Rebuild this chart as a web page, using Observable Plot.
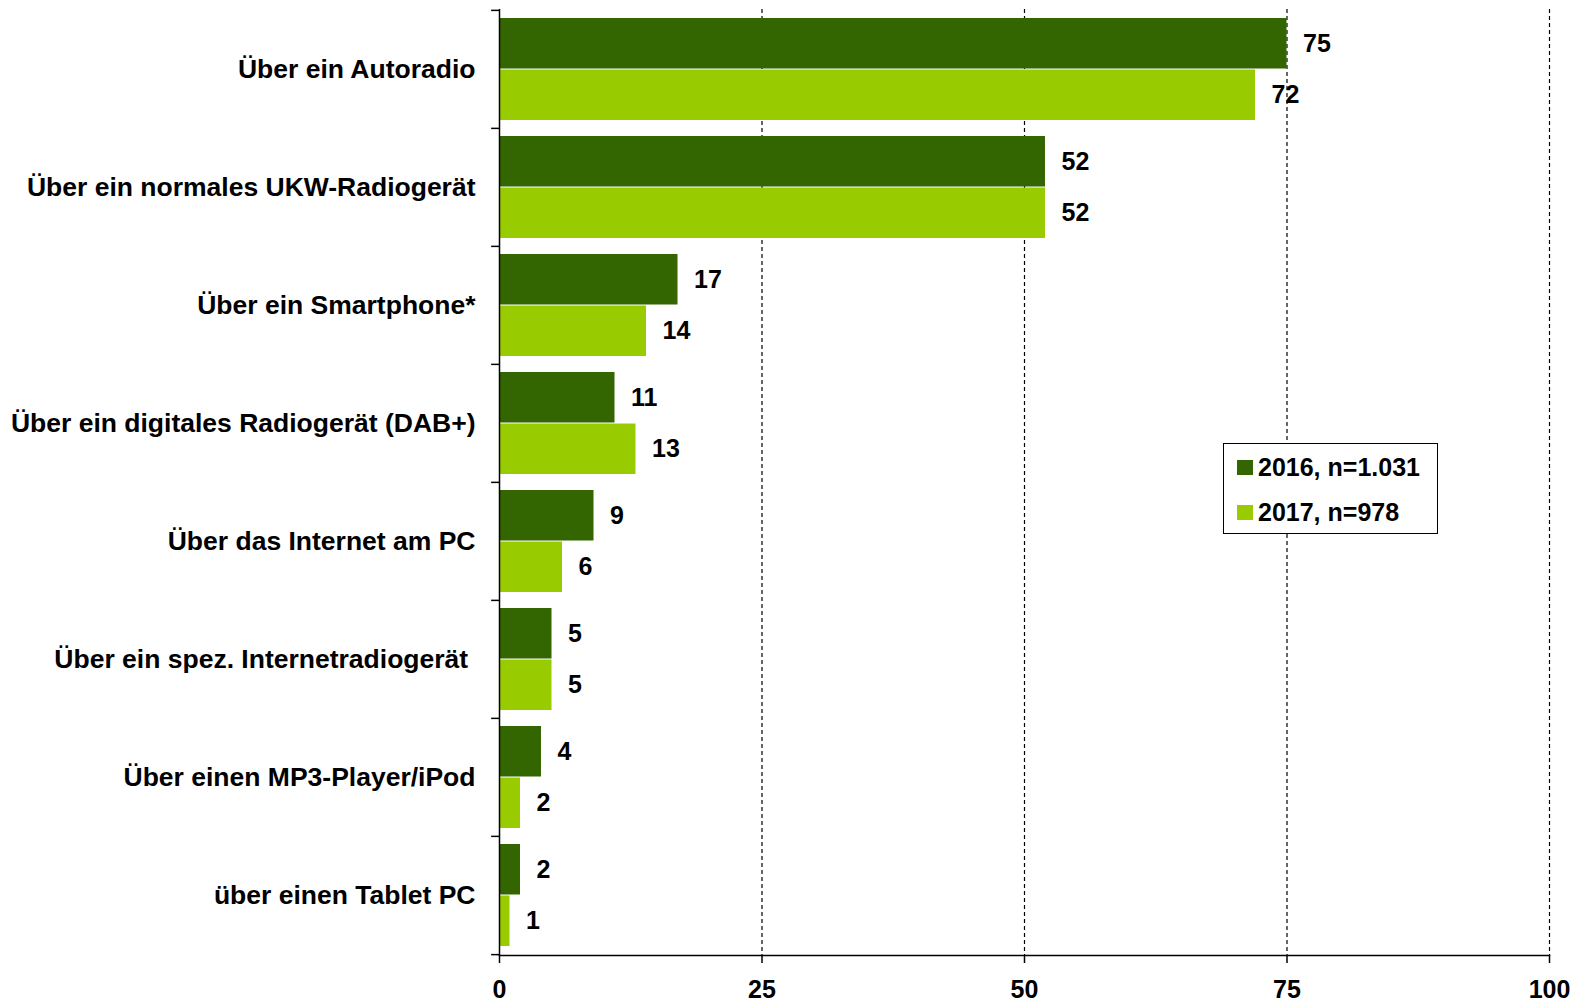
<!DOCTYPE html>
<html>
<head>
<meta charset="utf-8">
<script src="https://cdn.jsdelivr.net/npm/d3@7"></script>
<script src="https://cdn.jsdelivr.net/npm/@observablehq/plot@0.6"></script>
<style>
  html, body { margin: 0; padding: 0; background: #fff; }
  #wrap { position: relative; width: 1587px; height: 1004px; font-family: "Liberation Sans", Arial, sans-serif; }
  #legend { position: absolute; left: 1223px; top: 443px; width: 213px; height: 89px; border: 1px solid #000; background: #fff; box-sizing: content-box; }
  .item { position: absolute; left: 13px; display: flex; align-items: center; font-weight: bold; font-size: 25px; color: #000; white-space: nowrap; }
  .sw { width: 16px; height: 15px; margin-right: 5px; }
</style>
</head>
<body>
<div id="wrap"><div id="legend"></div></div>
<script>
const categories = [
  "Über ein Autoradio",
  "Über ein normales UKW-Radiogerät",
  "Über ein Smartphone*",
  "Über ein digitales Radiogerät (DAB+)",
  "Über das Internet am PC",
  "Über ein spez. Internetradiogerät\u00a0",
  "Über einen MP3-Player/iPod",
  "über einen Tablet PC"
];
const values2016 = [75, 52, 17, 11, 9, 5, 4, 2];
const values2017 = [72, 52, 14, 13, 6, 5, 2, 1];
const seriesNames = ["2016, n=1.031", "2017, n=978"];
const seriesColors = ["#336600", "#99cc00"];
const xTicks = [0, 25, 50, 75, 100];

const d2016 = categories.map((c, i) => ({cat: c, v: values2016[i]}));
const d2017 = categories.map((c, i) => ({cat: c, v: values2017[i]}));

const half = 51.5;
const step = 118.25;

const chart = Plot.plot({
  width: 1587,
  height: 1004,
  marginLeft: 499,
  marginRight: 38,
  marginTop: 9,
  marginBottom: 49,
  style: {fontFamily: "'Liberation Sans', Arial, sans-serif", fontSize: "25px", fontWeight: "bold", color: "#000", background: "#fff"},
  x: {domain: [0, 100]},
  y: {domain: categories, paddingInner: 0.1315, paddingOuter: 0.054},
  marks: [
    Plot.ruleX(xTicks.slice(1), {stroke: "#000", strokeWidth: 1.2, strokeDasharray: "4,3"}),
    Plot.barX(d2016, {x: "v", y: "cat", fill: seriesColors[0], insetBottom: half}),
    Plot.barX(d2017, {x: "v", y: "cat", fill: seriesColors[1], insetTop: half}),
    Plot.text(d2016, {x: "v", y: "cat", text: d => String(d.v), dy: -half / 2, dx: 16, textAnchor: "start"}),
    Plot.text(d2017, {x: "v", y: "cat", text: d => String(d.v), dy: half / 2, dx: 16, textAnchor: "start"}),
    Plot.ruleX([0], {stroke: "#000", strokeWidth: 1.5}),
    Plot.frame({anchor: "bottom", stroke: "#000", strokeWidth: 1.5}),
    Plot.ruleY(categories, {y: d => d, x1: -0.75, x2: 0, dy: -step / 2, stroke: "#000", strokeWidth: 1.5}),
    Plot.ruleY([categories[categories.length - 1]], {y: d => d, x1: -0.75, x2: 0, dy: step / 2, stroke: "#000", strokeWidth: 1.5}),
    Plot.axisY({tickSize: 0, tickPadding: 24, label: null, fontSize: 26.5}),
    Plot.axisX({ticks: xTicks, tickSize: 8, tickPadding: 17, label: null, stroke: "#000", strokeWidth: 1.5})
  ]
});
document.getElementById("wrap").prepend(chart);

const legend = document.getElementById("legend");
seriesNames.forEach((name, i) => {
  const item = document.createElement("div");
  item.className = "item";
  item.style.top = (i === 0 ? 9 : 54) + "px";
  const sw = document.createElement("div");
  sw.className = "sw";
  sw.style.background = seriesColors[i];
  const t = document.createElement("span");
  t.textContent = name;
  item.append(sw, t);
  legend.append(item);
});
</script>
</body>
</html>
